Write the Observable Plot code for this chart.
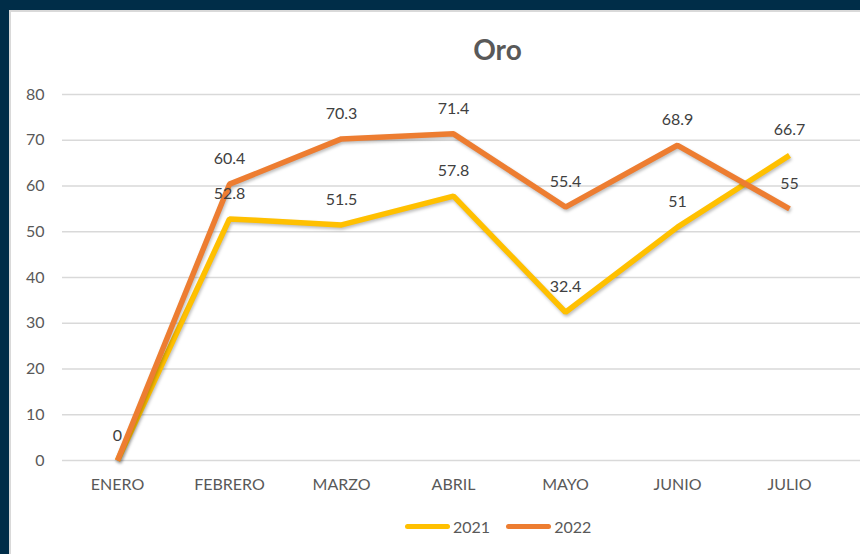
<!DOCTYPE html>
<html>
<head>
<meta charset="utf-8">
<script src="https://cdn.jsdelivr.net/npm/d3@7"></script>
<script src="https://cdn.jsdelivr.net/npm/@observablehq/plot@0.6"></script>
<style>
  html, body { margin: 0; padding: 0; }
  body { width: 860px; height: 554px; background: #002d48; position: relative; overflow: hidden; font-family: Lato, "Open Sans", sans-serif; }
  #card { position: absolute; left: 9px; top: 10px; width: 851px; height: 544px; background: #fff; border-left: 2px solid #d9d9d9; border-top: 2px solid #d9d9d9; box-sizing: border-box; }
  #title { position: absolute; left: 0; width: 100%; top: 20px; text-align: center; padding-left: 124px; box-sizing: border-box; font-size: 28px; font-weight: bold; color: #595959; }
  #chart { position: absolute; left: -2px; top: 60px; }
  #legend { position: absolute; top: 505px; left: 394px; display: flex; align-items: center; font-size: 16px; color: #595959; }
  .item { display: flex; align-items: center; margin-right: 16px; }
  .sw { width: 45px; height: 5px; border-radius: 3px; margin-right: 3px; }
  #chart path { filter: drop-shadow(1px 2px 1.5px rgba(0,0,0,0.25)); }
</style>
</head>
<body>
<div id="card">
  <div id="title">Oro</div>
  <div id="chart"></div>
  <div id="legend"></div>
</div>
<script>
const months = ["ENERO", "FEBRERO", "MARZO", "ABRIL", "MAYO", "JUNIO", "JULIO"];
const values2021 = [0, 52.8, 51.5, 57.8, 32.4, 51, 66.7];
const values2022 = [0, 60.4, 70.3, 71.4, 55.4, 68.9, 55];
const seriesNames = ["2021", "2022"];
const seriesColors = ["#FFC000", "#ED7D31"];
const yTicks = [0, 10, 20, 30, 40, 50, 60, 70, 80];

const data = [];
months.forEach((m, i) => {
  data.push({ month: m, series: "2021", value: values2021[i] });
  data.push({ month: m, series: "2022", value: values2022[i] });
});
// single "0" label for ENERO (both series overlap there)
const labelData = data.filter(d => !(d.month === "ENERO" && d.series === "2021"));

const chart = Plot.plot({
  width: 851,
  height: 432,
  marginTop: 22,
  marginBottom: 44,
  marginLeft: 53,
  marginRight: 0,
  style: { fontFamily: "Lato, 'Open Sans', sans-serif", fontSize: "16px", color: "#595959", background: "transparent" },
  x: { type: "point", domain: months, range: [106, 781], padding: 0, label: null },
  y: { domain: [0, 80], ticks: yTicks, label: null },
  color: { domain: seriesNames, range: seriesColors },
  marks: [
    Plot.ruleY(yTicks, { stroke: "#d9d9d9", strokeWidth: 1.5 }),
    Plot.axisY({ ticks: yTicks, tickSize: 0, tickPadding: 18, label: null, fontSize: 16, fill: "#595959" }),
    Plot.axisX({ tickSize: 0, tickPadding: 18, label: null, fontSize: 16, fill: "#595959" }),
    Plot.line(data, { x: "month", y: "value", z: "series", stroke: "series", strokeWidth: 5.5, strokeLinejoin: "miter", strokeLinecap: "butt" }),
    Plot.text(labelData, { x: "month", y: "value", text: d => String(d.value), dy: -25, fontSize: 16, fill: "#404040" })
  ]
});
document.getElementById("chart").appendChild(chart);

const legend = document.getElementById("legend");
seriesNames.forEach((s, i) => {
  const item = document.createElement("div");
  item.className = "item";
  const sw = document.createElement("div");
  sw.className = "sw";
  sw.style.background = seriesColors[i];
  const t = document.createElement("span");
  t.textContent = s;
  item.appendChild(sw);
  item.appendChild(t);
  legend.appendChild(item);
});
</script>
</body>
</html>
